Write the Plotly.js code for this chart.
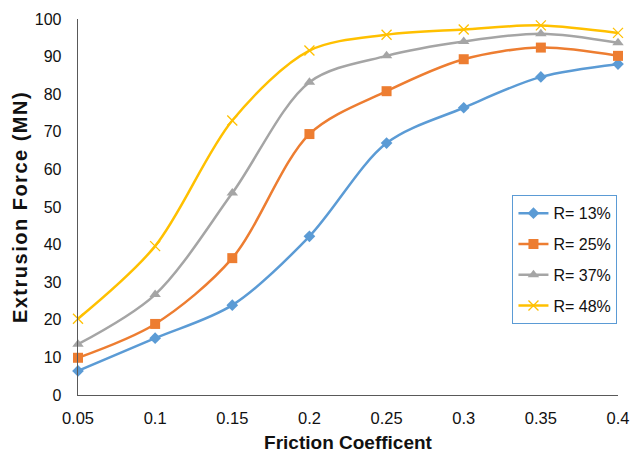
<!DOCTYPE html>
<html>
<head>
<meta charset="utf-8">
<script src="https://cdn.plot.ly/plotly-3.0.1.min.js"></script>
<style>
  html, body { margin: 0; padding: 0; background: #fff; }
  #chart { width: 644px; height: 453px; }
  /* widen the vertical axis title a little */
  #chart .ytitle { letter-spacing: 1.5px; }
</style>
</head>
<body>
<div id="chart"></div>
<script>
// Friction coefficient (x) and extrusion force in MN for each reduction ratio
const friction = [0.05, 0.1, 0.15, 0.2, 0.25, 0.3, 0.35, 0.4];
const r13 = [6.4, 15.1, 23.9, 42.2, 67.0, 76.4, 84.6, 88.0];
const r25 = [9.9, 18.9, 36.4, 69.4, 80.8, 89.3, 92.4, 90.2];
const r37 = [13.5, 26.7, 53.7, 83.2, 90.2, 94.0, 96.1, 93.7];
const r48 = [20.3, 39.6, 73.0, 91.6, 95.8, 97.2, 98.3, 96.3];

const seriesNames = ['R= 13%', 'R= 25%', 'R= 37%', 'R= 48%'];
const xTicks = [0.05, 0.1, 0.15, 0.2, 0.25, 0.3, 0.35, 0.4];
const xTickText = ['0.05', '0.1', '0.15', '0.2', '0.25', '0.3', '0.35', '0.4'];
const yTicks = [0, 10, 20, 30, 40, 50, 60, 70, 80, 90, 100];

const colors = ['#5b9bd5', '#ed7d31', '#a5a5a5', '#ffc000'];
const symbols = ['diamond', 'square', 'triangle-up', 'x-thin-open'];
const sizes = [9, 10, 10, 10];
const values = [r13, r25, r37, r48];

const FONT = 'Liberation Sans, Arial, sans-serif';

const traces = values.map((v, i) => ({
  x: friction,
  y: v,
  name: seriesNames[i],
  legendgroup: 'g' + i,
  type: 'scatter',
  mode: 'lines+markers',
  line: { color: colors[i], width: 2.5, shape: 'spline', smoothing: 0.9 },
  marker: {
    symbol: symbols[i],
    size: sizes[i],
    color: colors[i],
    line: { color: colors[i], width: i === 3 ? 1.3 : 0 }
  },
  cliponaxis: false
}));

const layout = {
  width: 644,
  height: 453,
  margin: { l: 78, r: 26, t: 19, b: 58 },
  paper_bgcolor: '#ffffff',
  plot_bgcolor: '#ffffff',
  font: { family: FONT, size: 16, color: '#111111' },
  showlegend: true,
  legend: {
    x: 0.804, y: 0.532, xanchor: 'left', yanchor: 'top',
    bordercolor: '#5b9bd5', borderwidth: 1.3,
    bgcolor: '#ffffff',
    font: { family: FONT, size: 16, color: '#111111' },
    traceorder: 'grouped',
    tracegroupgap: 7,
    itemwidth: 30
  },
  xaxis: {
    range: [0.05, 0.4],
    tickvals: xTicks,
    ticktext: xTickText,
    showgrid: false,
    zeroline: false,
    showline: true,
    linecolor: '#595959',
    linewidth: 1.3,
    ticks: '',
    ticklabelstandoff: 8,
    tickfont: { family: FONT, size: 16.5 },
    title: { text: '<b>Friction Coefficent</b>', font: { family: FONT, size: 19 }, standoff: 9 }
  },
  yaxis: {
    range: [0, 100],
    tickvals: yTicks,
    showgrid: false,
    zeroline: false,
    showline: true,
    linecolor: '#595959',
    linewidth: 1.3,
    ticks: '',
    ticklabelstandoff: 12,
    tickfont: { family: FONT, size: 16 },
    title: { text: '<b>Extrusion Force (MN)</b>', font: { family: FONT, size: 20 }, standoff: 1 }
  }
};

Plotly.newPlot('chart', traces, layout, { staticPlot: true, displayModeBar: false });
</script>
</body>
</html>
